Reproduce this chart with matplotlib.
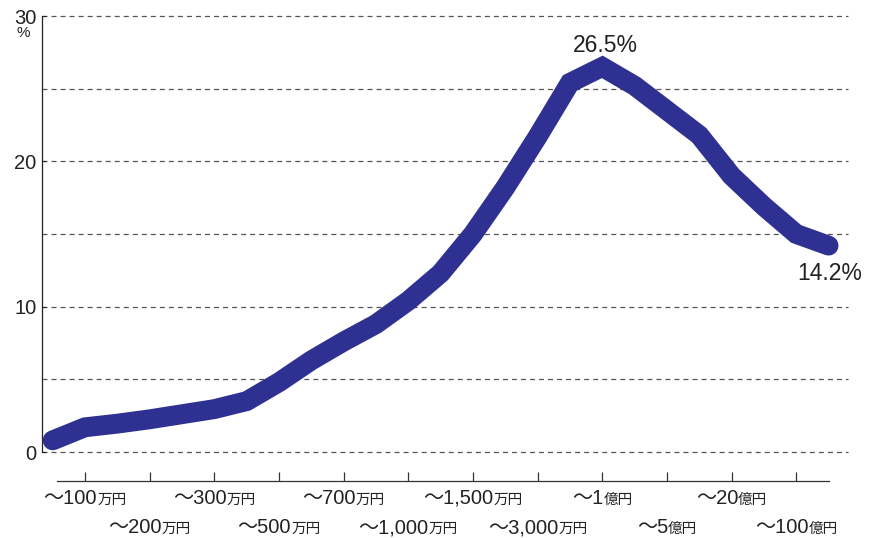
import matplotlib
matplotlib.use('Agg')
import matplotlib.pyplot as plt
from matplotlib.offsetbox import TextArea, HPacker, AnnotationBbox
import matplotlib.transforms as mtransforms
import numpy as np

# ---- data ----
brackets = ['〜70万円', '〜100万円', '〜150万円', '〜200万円', '〜250万円', '〜300万円',
            '〜400万円', '〜500万円', '〜600万円', '〜700万円', '〜800万円', '〜1,000万円',
            '〜1,200万円', '〜1,500万円', '〜2,000万円', '〜3,000万円', '〜5,000万円',
            '〜1億円', '〜2億円', '〜5億円', '〜10億円', '〜20億円', '〜50億円',
            '〜100億円', '100億円超']
burden = [0.8, 1.7, 1.95, 2.25, 2.6, 2.95, 3.5, 4.8, 6.3, 7.6, 8.8, 10.4, 12.3,
          15.0, 18.2, 21.7, 25.4, 26.5, 25.2, 23.5, 21.8, 19.0, 16.9, 15.0, 14.2]
tick_numbers = ['〜100', '〜200', '〜300', '〜500', '〜700', '〜1,000', '〜1,500',
                '〜3,000', '〜1', '〜5', '〜20', '〜100']
tick_units = ['万円'] * 8 + ['億円'] * 4
tick_brackets = [brackets.index(n + u) for n, u in zip(tick_numbers, tick_units)]
y_ticks = [0, 10, 20, 30]
y_minor = [5, 15, 25]
peak_label = '26.5%'
last_label = '14.2%'

plt.rcParams['lines.scale_dashes'] = False
FONT = ['Liberation Sans', 'Noto Sans CJK JP', 'DejaVu Sans']
plt.rcParams['font.family'] = FONT

W, H = 884, 538
fig = plt.figure(figsize=(W / 100, H / 100), dpi=100)

def fx(px):
    return px / W

def fy(py):
    return (H - py) / H

x = np.arange(len(burden))
ax = fig.add_axes([fx(42), fy(452), fx(848) - fx(42), fy(16) - fy(452)])
ax.set_xlim(-0.33, len(burden) - 1 + 0.6)
ax.set_ylim(0, 30)

line_color = '#2e3192'
ax.plot(x, burden, color=line_color, lw=14.3, solid_capstyle='round',
        solid_joinstyle='miter', zorder=3)

# grid
ax.set_yticks(y_ticks)
ax.set_yticks(y_minor, minor=True)
ax.set_yticklabels([str(v) for v in y_ticks])
ax.grid(axis='y', which='both', color='#555555', lw=0.9,
        linestyle=(0, (3.6, 2.9)), zorder=1)
for t in ax.yaxis.get_major_ticks() + ax.yaxis.get_minor_ticks():
    t.gridline.set_clip_on(False)
ax.set_axisbelow(True)
ax.tick_params(axis='y', which='major', direction='in', length=3, width=0.8,
               color='#222222', labelsize=14.5, pad=4, labelcolor='#222222')
ax.tick_params(axis='y', which='minor', length=0)
ax.tick_params(axis='x', which='both', length=0, labelbottom=False)
for s in ['top', 'right', 'bottom']:
    ax.spines[s].set_visible(False)
ax.spines['left'].set_color('#222222')
ax.spines['left'].set_linewidth(0.9)

fig.text(fx(23), fy(37), '%', fontsize=11, ha='center', va='baseline',
         color='#222222')

# annotations
imax = int(np.argmax(burden))
ax.annotate(peak_label, (x[imax], burden[imax]), xytext=(2, 7),
            textcoords='offset points', ha='center', va='bottom',
            fontsize=16.5, color='#222222')
ax.annotate(last_label, (x[-1], burden[-1]), xytext=(1, -12),
            textcoords='offset points', ha='center', va='top',
            fontsize=16.5, color='#222222')

# separate x axis
ax2 = fig.add_axes([fx(42), fy(481), fx(848) - fx(42), 0.0005])
ax2.set_xlim(ax.get_xlim())
ax2.set_ylim(0, 1)
for s in ['top', 'right', 'left']:
    ax2.spines[s].set_visible(False)
ax2.spines['bottom'].set_bounds(x[0] + 0.13, x[-1])
ax2.spines['bottom'].set_color('#333333')
ax2.spines['bottom'].set_linewidth(0.9)
ax2.set_yticks([])
ax2.set_xticks(tick_brackets)
ax2.tick_params(axis='x', direction='in', length=6.5, width=0.9,
                color='#333333', labelbottom=False)
ax2.patch.set_visible(False)

trans = mtransforms.blended_transform_factory(ax2.transData, fig.transFigure)
for j, (num, unit, xi) in enumerate(zip(tick_numbers, tick_units, tick_brackets)):
    row_y = fy(508) if j % 2 == 0 else fy(537)
    t1 = TextArea(num, textprops=dict(size=14.5, color='#222222', family=FONT))
    t2 = TextArea(unit, textprops=dict(size=10.5, color='#222222',
                                       family=['Noto Sans CJK JP']))
    pack = HPacker(children=[t1, t2], align='baseline', pad=0, sep=0)
    ab = AnnotationBbox(pack, (xi, row_y), xycoords=trans, frameon=False,
                        box_alignment=(0.5, 0), pad=0)
    fig.add_artist(ab)

fig.savefig('out.png', dpi=100)
